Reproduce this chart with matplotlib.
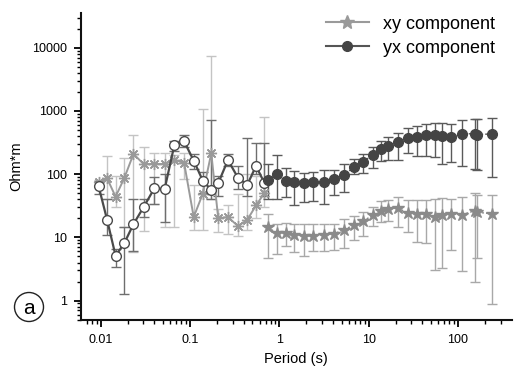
import numpy as np
import matplotlib
matplotlib.use("Agg")
import matplotlib.pyplot as plt
from matplotlib.ticker import LogLocator, FixedLocator, FixedFormatter, NullFormatter
from matplotlib.lines import Line2D
from matplotlib.patches import Ellipse

plt.rcParams['font.family'] = ['Liberation Sans', 'DejaVu Sans']

# short periods: open circles (yx) and asterisks (xy), solid lines
period_short = [0.0095, 0.0118, 0.0147, 0.0184, 0.0233, 0.0302, 0.040, 0.052, 0.067, 0.086,
                0.110, 0.139, 0.173, 0.207, 0.266, 0.345, 0.438, 0.548, 0.679]
yx_short = [64, 19, 5.1, 8.1, 16.2, 30, 60, 58, 294, 330, 164, 79, 56, 72, 168, 87, 68, 135, 73]
yx_short_lo = [48, 11, 3.4, 1.28, 6.0, 20.8, 34, 17.3, 230, 270, 120, 50, 40, 45, 135, 58, 45, 100, 45]
yx_short_hi = [78, 41, 6.6, 14.8, 41, 41, 89, 100, 340, 410, 210, 110, 730, 95, 205, 133, 375, 313, 317]
xy_short = [74, 86, 44, 87, 209, 145, 145, 145, 168, 150, 21, 49, 215, 20, 21, 15, 19, 32, 50]
xy_short_lo = [62, 41, 30, 14.8, 5.8, 12.8, 34, 14.5, 14.5, 85, 13.1, 13.1, 40, 12, 11.3, 10.5, 13, 20, 30]
xy_short_hi = [82, 196, 95, 178, 410, 266, 220, 220, 200, 220, 68, 1080, 7500, 28, 32, 49, 100, 95, 800]

# long periods: filled markers, dotted lines
period_long = [0.747, 0.94, 1.18, 1.47, 1.88, 2.41, 3.13, 4.10, 5.31, 6.88, 8.71, 11.1, 13.8,
               16.5, 21.1, 27.6, 34.9, 44.1, 55, 66, 84, 112, 155, 165, 240]
yx_long = [82, 99, 78, 74, 72, 74, 76, 83, 98, 130, 158, 202, 248, 276, 325, 368, 387, 411,
           411, 398, 384, 434, 437, 423, 434]
yx_long_lo = [40, 40, 43, 33, 36, 38, 34, 46, 52, 101, 105, 124, 160, 168, 170, 215, 192, 194,
              190, 143, 155, 133, 119, 117, 89]
yx_long_hi = [143, 200, 125, 114, 105, 108, 117, 117, 143, 177, 206, 266, 335, 387, 455, 530,
              580, 620, 645, 645, 630, 730, 755, 740, 775]
xy_long = [14.5, 11.6, 11.6, 10.9, 10.7, 10.7, 11.1, 11.4, 13.3, 15.7, 18.0, 22.7, 26.2, 27.8,
           29.5, 24.0, 23.8, 23.3, 21.3, 22.9, 23.5, 22.9, 26.5, 25, 23.5]
xy_long_lo = [4.8, 5.5, 7.2, 5.8, 5.0, 6.0, 6.0, 6.3, 6.8, 9.1, 10.7, 15.3, 17.3, 18.4, 14.8,
              12, 8.4, 8.1, 3.1, 3.3, 6.4, 2.9, 2.0, 4.7, 0.89]
xy_long_hi = [23.5, 16.3, 16.7, 16.3, 16, 16, 16, 16.3, 19.6, 22, 25, 30, 37, 39, 44, 39, 39,
              39, 40, 42, 40, 43, 50, 47, 46]

x_ticks = [0.01, 0.1, 1, 10, 100]
x_labels = ["0.01", "0.1", "1", "10", "100"]
y_ticks = [1, 10, 100, 1000, 10000]
y_labels = ["1", "10", "100", "1000", "10000"]

dark = "#4a4a4a"
light = "#9a9a9a"
bar_dark = "#6e6e6e"
bar_light = "#c4c4c4"
asterisk = (8, 2, 0)


def yerr(y, lo, hi):
    y = np.array(y)
    return [y - np.array(lo), np.array(hi) - y]


fig = plt.figure(figsize=(5.19, 3.74), dpi=100)
ax = fig.add_axes([0.156, 0.144, 0.830, 0.821])

# xy short
ax.errorbar(period_short, xy_short, yerr=yerr(xy_short, xy_short_lo, xy_short_hi),
            fmt="none", ecolor=bar_light, elinewidth=1.0, capsize=3.5, capthick=1.0, zorder=1)
ax.plot(period_short, xy_short, color=light, lw=1.4, marker=asterisk, ms=8,
        mec=light, mfc=light, mew=1.0, zorder=3)
# yx short
ax.errorbar(period_short, yx_short, yerr=yerr(yx_short, yx_short_lo, yx_short_hi),
            fmt="none", ecolor=bar_dark, elinewidth=1.0, capsize=3.5, capthick=1.0, zorder=2)
ax.plot(period_short, yx_short, color=dark, lw=1.6, marker="o", ms=7,
        mec=dark, mfc="white", mew=1.0, zorder=4)

# xy long
ax.errorbar(period_long, xy_long, yerr=yerr(xy_long, xy_long_lo, xy_long_hi),
            fmt="none", ecolor="#a8a8a8", elinewidth=1.0, capsize=3.5, capthick=1.0, zorder=1)
ax.plot(period_long, xy_long, color="#8a8a8a", lw=1.0, ls=(0, (1.5, 1.5)), marker="*", ms=9,
        mec="#8a8a8a", mfc="#8a8a8a", zorder=3)
# yx long
ax.errorbar(period_long, yx_long, yerr=yerr(yx_long, yx_long_lo, yx_long_hi),
            fmt="none", ecolor="#5a5a5a", elinewidth=1.0, capsize=3.5, capthick=1.0, zorder=2)
ax.plot(period_long, yx_long, color="#555555", lw=1.0, ls=(0, (1.5, 1.5)), marker="o", ms=7,
        mec="#444444", mfc="#444444", zorder=4)

ax.set_xscale("log")
ax.set_yscale("log")
ax.set_xlim(0.00602, 399)
ax.set_ylim(0.49, 35400)

ax.xaxis.set_major_locator(FixedLocator(x_ticks))
ax.xaxis.set_major_formatter(FixedFormatter(x_labels))
ax.xaxis.set_minor_locator(LogLocator(base=10, subs=np.arange(2, 10), numticks=20))
ax.xaxis.set_minor_formatter(NullFormatter())
ax.yaxis.set_major_locator(FixedLocator(y_ticks))
ax.yaxis.set_major_formatter(FixedFormatter(y_labels))
ax.yaxis.set_minor_locator(LogLocator(base=10, subs=np.arange(2, 10), numticks=20))
ax.yaxis.set_minor_formatter(NullFormatter())

for s in ["top", "right"]:
    ax.spines[s].set_visible(False)
for s in ["left", "bottom"]:
    ax.spines[s].set_linewidth(1.5)
    ax.spines[s].set_color("#111111")
ax.tick_params(which="major", direction="out", length=5, width=1.3, labelsize=9, pad=5)
ax.tick_params(which="minor", direction="out", length=3, width=1.0)

ax.set_xlabel("Period (s)", fontsize=10.5, labelpad=4)
ax.set_ylabel("Ohm*m", fontsize=10.5, labelpad=6)

handles = [
    Line2D([], [], color=light, lw=1.5, marker="*", ms=10, mec=light, mfc=light),
    Line2D([], [], color="#555555", lw=1.5, marker="o", ms=7, mec="#444444", mfc="#444444"),
]
ax.legend(handles, ["xy component", "yx component"], loc="upper right",
          bbox_to_anchor=(1.0, 1.045), frameon=False, fontsize=13, handlelength=2.4,
          handletextpad=0.8, labelspacing=0.4)

fig.patches.append(Ellipse((29 / 519, 1 - 307 / 374), 29 / 519, 29 / 374,
                           transform=fig.transFigure, fill=False, ec="#222222", lw=1.0))
fig.text(29 / 519, 1 - 308 / 374, "a", ha="center", va="center", fontsize=15)

fig.savefig("out.png", dpi=100)
